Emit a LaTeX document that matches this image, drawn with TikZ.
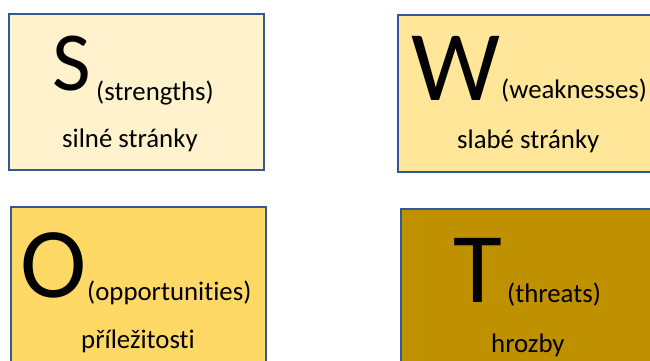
\documentclass[tikz,border=0pt]{standalone}
\usepackage{fontspec}
\setmainfont{Carlito}[Ligatures=NoCommon]
\definecolor{sfill}{RGB}{255,242,204}
\definecolor{wfill}{RGB}{255,230,153}
\definecolor{ofill}{RGB}{255,217,102}
\definecolor{tfill}{RGB}{191,144,0}
\definecolor{edgeblue}{RGB}{52,88,150}
\begin{document}
\begin{tikzpicture}[x=1pt,y=-1pt,
  box/.style={shape=rectangle,draw=edgeblue,line width=2pt,inner sep=0pt},
  every node/.style={inner sep=0pt,anchor=base west},
  letter/.style={font=\fontsize{84}{84}\selectfont},
  bigletter/.style={font=\fontsize{100}{100}\selectfont},
  gloss/.style={font=\fontsize{26.8}{26.8}\selectfont},
  ]
        \clip (0,0) rectangle (650,361);
        \useasboundingbox (0,0) rectangle (650,361);
        % the four quadrants
        \node[box,fill=sfill,anchor=center,minimum width=255pt,minimum height=156pt] (sbox) at (136.5,92) {};
        \node[box,fill=wfill,anchor=center,minimum width=302pt,minimum height=157pt] (wbox) at (549,93.5) {};
        \node[box,fill=ofill,anchor=center,minimum width=255pt,minimum height=193pt] (obox) at (138.5,303.5) {};
        \node[box,fill=tfill,anchor=center,minimum width=299pt,minimum height=191pt] (tbox) at (550.5,304.5) {};
        % strengths
        \node[letter] (s) at (52,90) {S};
        \node[gloss] (seng) at (96,100) {(strengths)};
        \node[gloss] (scz) at (62,147) {silné stránky};
        % weaknesses
        \node[bigletter] (w) at (411,100) {W};
        \node[gloss] (weng) at (501,98) {(weaknesses)};
        \node[gloss] (wcz) at (457,148) {slabé stránky};
        % opportunities
        \node[bigletter] (o) at (20,297) {O};
        \node[gloss] (oeng) at (87,300) {(opportunities)};
        \node[gloss] (ocz) at (81,348) {příležitosti};
        % threats
        \node[bigletter] (t) at (453,302) {T};
        \node[gloss] (teng) at (507,302) {(threats)};
        \node[gloss] (tcz) at (491,352) {hrozby};
      \end{tikzpicture}
\end{document}
